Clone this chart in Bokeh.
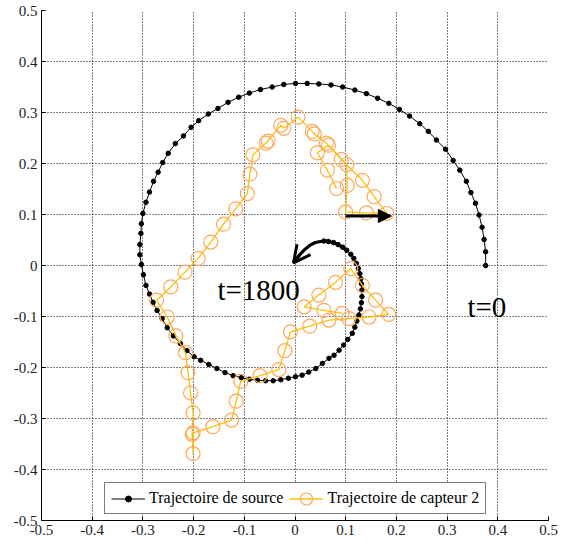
from bokeh.plotting import figure
from bokeh.models import (Range1d, FixedTicker, CustomJSTickFormatter, Legend, LegendItem,
                          Arrow, OpenHead, NormalHead, Label)
from bokeh.embed import file_html
from bokeh.resources import INLINE

# ---- data ----
ticks = [-0.5, -0.4, -0.3, -0.2, -0.1, 0.0, 0.1, 0.2, 0.3, 0.4, 0.5]

source_x = [0.376, 0.376, 0.373, 0.369, 0.363, 0.356, 0.347, 0.338, 0.325, 0.312, 0.297, 0.279,
            0.263, 0.246, 0.226, 0.206, 0.185, 0.163, 0.141, 0.118, 0.094, 0.071, 0.047, 0.024,
            0.001, -0.022, -0.045, -0.068, -0.090, -0.111, -0.132, -0.152, -0.171, -0.190, -0.205,
            -0.220, -0.236, -0.250, -0.261, -0.270, -0.279, -0.287, -0.294, -0.300, -0.303, -0.304,
            -0.306, -0.306, -0.303, -0.299, -0.294, -0.287, -0.280, -0.272, -0.262, -0.252, -0.240,
            -0.226, -0.213, -0.199, -0.186, -0.170, -0.154, -0.138, -0.122, -0.106, -0.090, -0.074,
            -0.058, -0.043, -0.028, -0.013, 0.001, 0.014, 0.027, 0.041, 0.054, 0.067, 0.077, 0.087,
            0.096, 0.104, 0.113, 0.118, 0.122, 0.126, 0.129, 0.131, 0.132, 0.132, 0.131, 0.130,
            0.128, 0.125, 0.121, 0.116, 0.110, 0.102, 0.094, 0.085, 0.076, 0.066, 0.057]
source_y = [0.000, 0.027, 0.051, 0.075, 0.099, 0.122, 0.143, 0.165, 0.187, 0.206, 0.228, 0.246,
            0.263, 0.278, 0.293, 0.306, 0.318, 0.328, 0.337, 0.344, 0.350, 0.354, 0.356, 0.357,
            0.357, 0.355, 0.350, 0.345, 0.338, 0.330, 0.320, 0.308, 0.297, 0.284, 0.271,
            0.254, 0.239, 0.220, 0.202, 0.183, 0.165, 0.144, 0.124, 0.102, 0.082, 0.063,
            0.041, 0.021, 0.002, -0.018, -0.039, -0.056, -0.072, -0.088, -0.104, -0.122, -0.138,
            -0.153, -0.167, -0.179, -0.186, -0.194, -0.202, -0.210, -0.216, -0.220, -0.223, -0.225,
            -0.226, -0.226, -0.224, -0.221, -0.218, -0.215, -0.209, -0.202, -0.192, -0.182, -0.176, -0.166,
            -0.156, -0.145, -0.133, -0.121, -0.109, -0.097, -0.085, -0.073, -0.061, -0.048, -0.036, -0.026,
            -0.016, -0.006, 0.004, 0.014, 0.022, 0.030, 0.036, 0.041, 0.045, 0.047, 0.048]

sensor_x = [0.093, 0.057, 0.018, 0.047, 0.080, 0.110, 0.133, 0.159, 0.185, 0.146, 0.106, 0.067,
            0.029, -0.009, -0.020, -0.032, -0.069, -0.107, -0.116, -0.125, -0.162, -0.201, -0.201,
            -0.203, -0.201, -0.206, -0.211, -0.216, -0.235, -0.252, -0.273, -0.245, -0.217, -0.191,
            -0.166, -0.141, -0.117, -0.094, -0.089, -0.083, -0.053, -0.057, -0.028, -0.022, 0.006,
            0.034, 0.038, 0.062, 0.091, 0.133, 0.156, 0.181, 0.141, 0.100, 0.103, 0.102, 0.066,
            0.044, 0.064, 0.082]
sensor_y = [-0.094, -0.088, -0.081, -0.058, -0.033, -0.006, -0.039, -0.068, -0.096, -0.101, -0.104, -0.107,
            -0.119, -0.130, -0.167, -0.204, -0.216, -0.227, -0.266, -0.303, -0.316, -0.328, -0.369,
            -0.331, -0.289, -0.250, -0.210, -0.171, -0.138, -0.101, -0.068, -0.042, -0.013, 0.014,
            0.046, 0.081, 0.111, 0.141, 0.179, 0.217, 0.244, 0.240, 0.275, 0.269, 0.291,
            0.263, 0.258, 0.240, 0.208, 0.167, 0.135, 0.102, 0.103, 0.105, 0.157, 0.198, 0.236,
            0.221, 0.187, 0.151]

arc_x = [0.105, 0.095, 0.085, 0.074, 0.062, 0.050, 0.040, 0.030, 0.020, 0.010, -0.003]
arc_y = [0.027, 0.035, 0.041, 0.045, 0.048, 0.047, 0.045, 0.040, 0.032, 0.022, 0.005]

straight_arrow_x = [0.100, 0.190]
straight_arrow_y = [0.097, 0.097]

labels_text = ["t=1800", "t=0"]
labels_x = [-0.153, 0.340]
labels_y = [-0.048, -0.081]

SERIF = "Liberation Serif"

p = figure(width=558, height=542, x_range=Range1d(-0.5, 0.5), y_range=Range1d(-0.5, 0.5),
           output_backend="svg", toolbar_location=None,
           min_border_left=41, min_border_right=10, min_border_top=10, min_border_bottom=22)
p.outline_line_color = None
p.background_fill_color = "white"

fmt = CustomJSTickFormatter(code="return Math.abs(tick) < 1e-9 ? '0' : tick.toFixed(1);")
for ax in (p.xaxis[0], p.yaxis[0]):
    ax.ticker = FixedTicker(ticks=ticks)
    ax.formatter = fmt
    ax.major_label_text_font = SERIF
    ax.major_label_text_font_size = "15px"
    ax.major_label_text_color = "#222222"
    ax.major_tick_in = 4
    ax.major_tick_out = 0
    ax.minor_tick_in = 0
    ax.minor_tick_out = 0
    ax.axis_line_color = "black"
    ax.major_tick_line_color = "black"
    ax.major_label_standoff = 4

for g in (p.xgrid[0], p.ygrid[0]):
    g.grid_line_color = "black"
    g.grid_line_dash = "1 2"
    g.grid_line_alpha = 1.0
    g.grid_line_width = 1

src_line = p.line(source_x, source_y, line_color="black", line_width=1)
src_dots = p.scatter(source_x, source_y, size=4.5, marker="circle", fill_color="black", line_color="black")

sen_line = p.line(sensor_x, sensor_y, line_color="#FFC000", line_width=1.3)
sen_circ = p.ellipse(sensor_x, sensor_y, width=14, height=14, width_units="screen", height_units="screen",
                     fill_color=None, line_color="#FFA85A", line_width=1.2)

# curved arrow (t=1800)
p.line(arc_x, arc_y, line_color="black", line_width=3.2)
p.add_layout(Arrow(x_start=arc_x[-2], y_start=arc_y[-2], x_end=arc_x[-1], y_end=arc_y[-1],
                   line_color="black", line_width=3,
                   end=OpenHead(size=17, line_width=3, line_color="black")))
# straight arrow
p.add_layout(Arrow(x_start=straight_arrow_x[0], y_start=straight_arrow_y[0],
                   x_end=straight_arrow_x[1], y_end=straight_arrow_y[1],
                   line_color="black", line_width=3,
                   end=NormalHead(size=13, fill_color="black", line_color="black")))

for t, x, y in zip(labels_text, labels_x, labels_y):
    p.add_layout(Label(x=x, y=y, text=t, text_font=SERIF, text_font_size="29px",
                       text_color="black", text_baseline="alphabetic", text_align="left"))

legend = Legend(items=[LegendItem(label="Trajectoire de source", renderers=[src_line, src_dots]),
                       LegendItem(label="Trajectoire de capteur 2", renderers=[sen_line, sen_circ])],
                orientation="horizontal", location=(63, 6))
legend.label_text_font = SERIF
legend.label_text_font_size = "16px"
legend.label_text_color = "black"
legend.glyph_width = 34
legend.glyph_height = 15
legend.label_height = 15
legend.label_standoff = 4
legend.spacing = 6
legend.padding = 6
legend.margin = 0
legend.border_line_color = "black"
legend.border_line_width = 1
legend.background_fill_color = "white"
legend.background_fill_alpha = 1
p.add_layout(legend)

open("out.html", "w").write(file_html(p, INLINE))
